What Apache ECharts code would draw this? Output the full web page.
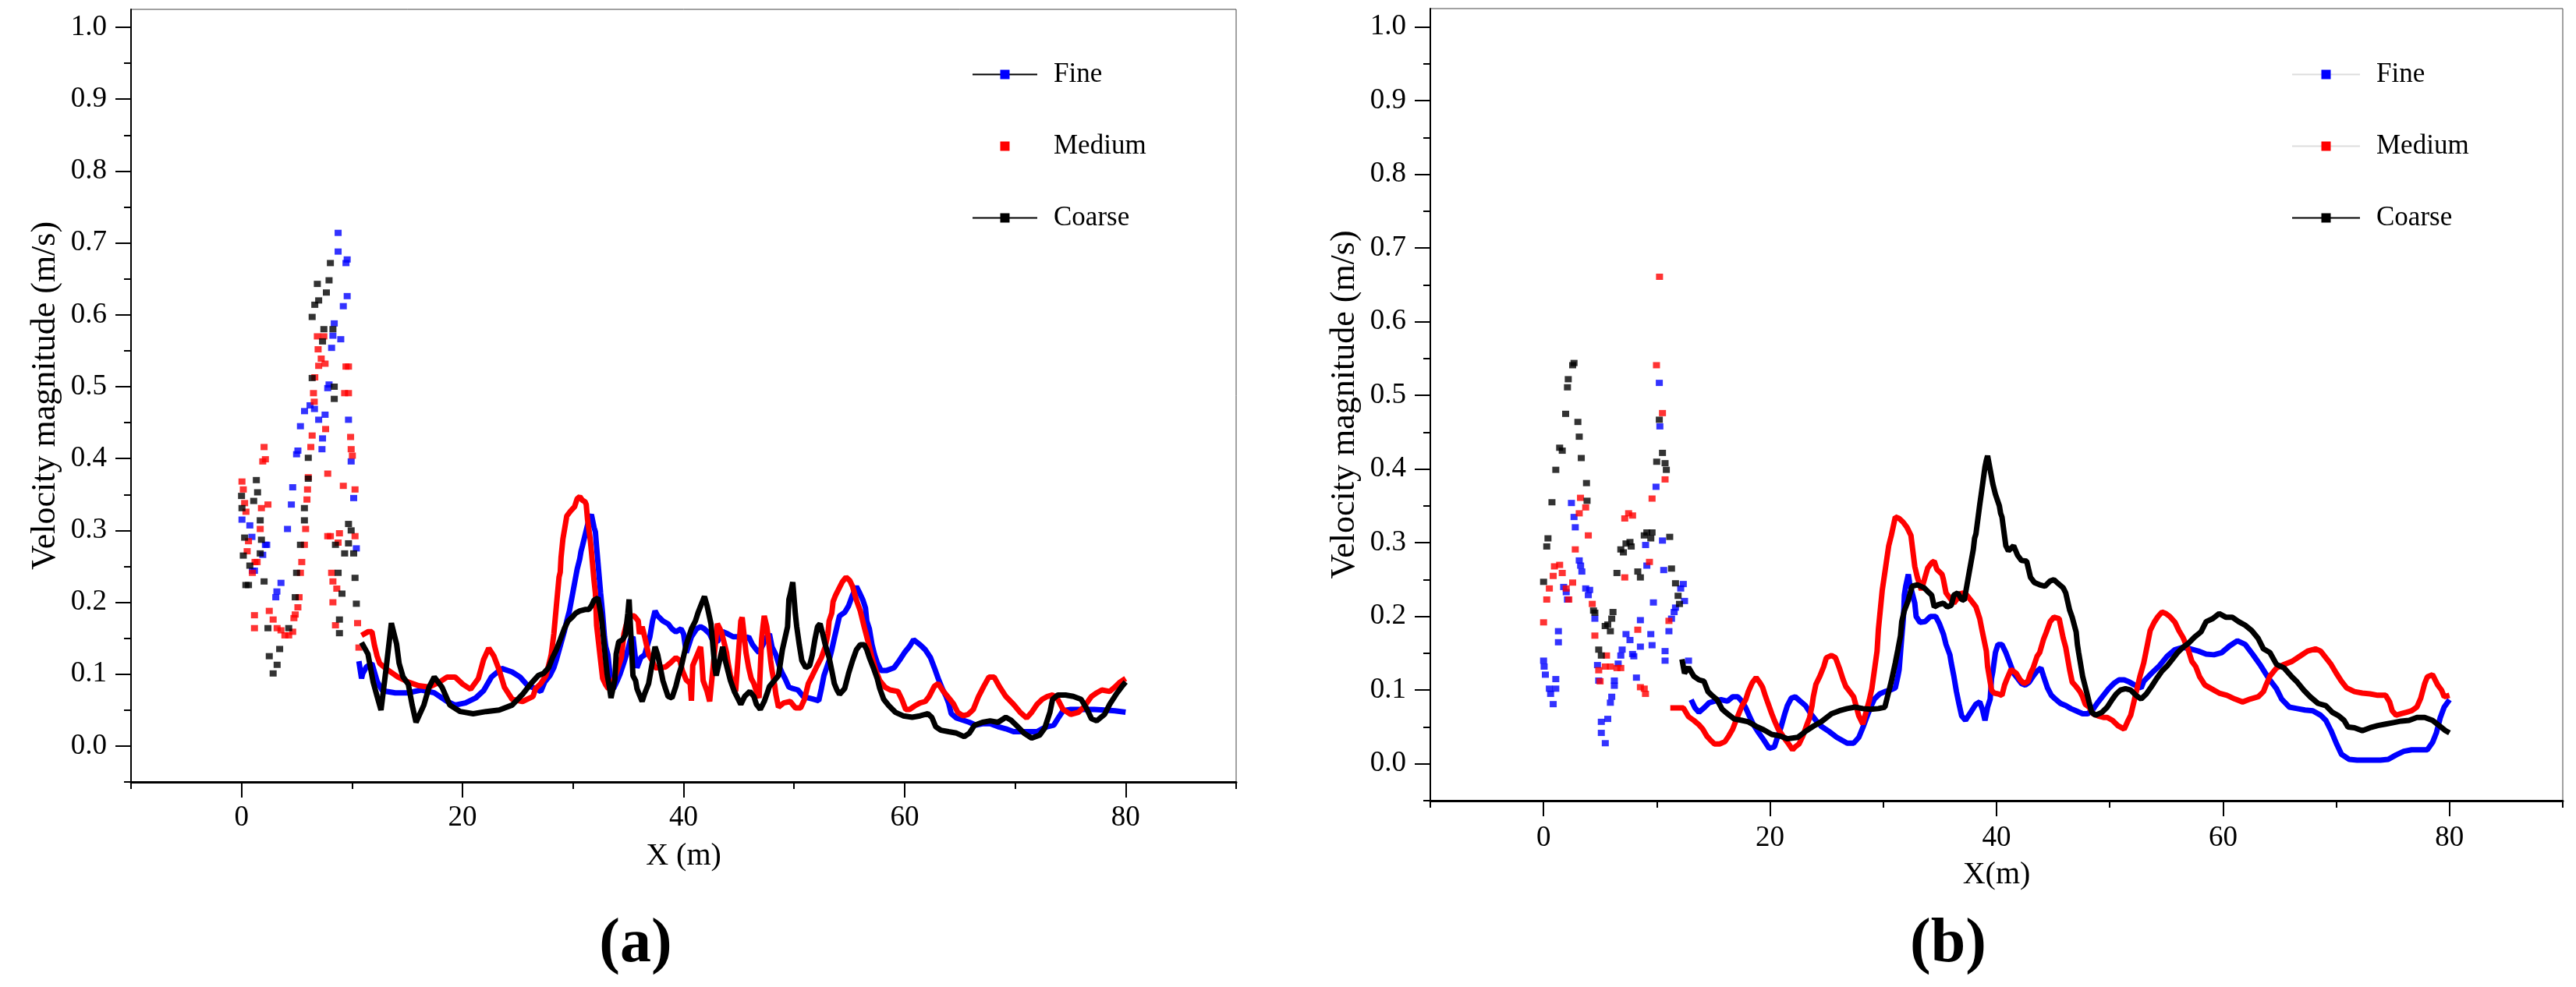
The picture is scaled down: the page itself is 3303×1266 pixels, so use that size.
<!DOCTYPE html>
<html>
<head>
<meta charset="utf-8">
<script src="https://cdn.jsdelivr.net/npm/echarts@6/dist/echarts.min.js"></script>
<style>
html, body { margin: 0; padding: 0; background: #fff; }
#chart { width: 3303px; height: 1266px; }
</style>
</head>
<body>
<div id="chart"></div>
<script>
// tick values
const xMajor = [0, 20, 40, 60, 80];
const xMinor = [-10, 10, 30, 50, 70, 90];
const yMajor = [0, 0.1, 0.2, 0.3, 0.4, 0.5, 0.6, 0.7, 0.8, 0.9, 1.0];
const yMinor = [-0.05, 0.05, 0.15, 0.25, 0.35, 0.45, 0.55, 0.65, 0.75, 0.85, 0.95];
const names = ['Fine', 'Medium', 'Coarse'];

// ---- panel (a) ----
// scattered points near the inlet, [x, velocity]
const fineA_pts = [[0.04,0.315],[0.75,0.307],[0.94,0.291],[0.98,0.244],[2.16,0.280],[2.28,0.280],[1.92,0.266],[1.17,0.244],[3.1,0.207],[3.2,0.215],[3.57,0.227],[4.16,0.302],[4.51,0.336],[4.63,0.360],[4.98,0.406],[5.1,0.411],[5.33,0.445],[5.7,0.466],[6.2,0.474],[6.6,0.469],[6.98,0.454],[7.56,0.461],[7.33,0.428],[7.28,0.413],[7.8,0.498],[7.92,0.503],[8.15,0.554],[8.27,0.571],[8.98,0.566],[8.39,0.588],[9.21,0.612],[9.56,0.626],[9.45,0.672],[9.56,0.677],[8.74,0.688],[8.74,0.714],[9.68,0.454],[9.92,0.396],[10.15,0.345],[10.39,0.275]];
const fineA_line = [[10.62,0.118],[10.86,0.094],[10.97,0.101],[11.3,0.110],[11.8,0.115],[12.27,0.090],[12.74,0.077],[13.91,0.074],[15.09,0.074],[16.26,0.078],[17.44,0.074],[18.61,0.062],[19.32,0.057],[20.26,0.060],[21.2,0.067],[21.9,0.077],[22.61,0.096],[23.55,0.108],[24.49,0.103],[25.2,0.096],[25.9,0.084],[26.61,0.080],[27.08,0.076],[27.43,0.089],[27.9,0.098],[28.26,0.109],[28.49,0.120],[29.2,0.159],[29.43,0.174],[29.67,0.188],[30.37,0.246],[30.6,0.260],[30.72,0.271],[30.84,0.278],[31.43,0.315],[31.66,0.322],[31.9,0.304],[32.02,0.298],[32.13,0.277],[32.49,0.213],[32.68,0.183],[32.84,0.152],[32.96,0.138],[33.15,0.127],[33.43,0.087],[33.66,0.080],[34.0,0.091],[34.25,0.100],[34.6,0.116],[34.96,0.134],[35.19,0.148],[35.42,0.152],[35.66,0.119],[35.78,0.109],[36.13,0.123],[36.48,0.127],[36.95,0.152],[37.19,0.174],[37.42,0.188],[37.66,0.181],[38.13,0.174],[38.6,0.170],[38.95,0.163],[39.3,0.159],[39.77,0.163],[40.0,0.156],[40.24,0.130],[40.48,0.141],[40.71,0.152],[41.18,0.163],[41.54,0.166],[41.89,0.163],[42.36,0.156],[42.6,0.148],[43.06,0.145],[43.54,0.159],[44.0,0.156],[44.48,0.152],[44.95,0.152],[45.42,0.148],[45.89,0.152],[46.24,0.141],[46.59,0.134],[46.83,0.130],[47.18,0.141],[47.53,0.152],[47.77,0.156],[48.0,0.138],[48.35,0.127],[48.71,0.109],[48.94,0.101],[49.18,0.094],[49.53,0.082],[49.88,0.080],[50.35,0.078],[50.82,0.069],[51.29,0.067],[51.76,0.065],[52.23,0.063],[52.47,0.080],[52.7,0.098],[53.17,0.119],[53.41,0.134],[53.64,0.150],[54.11,0.181],[54.58,0.186],[54.93,0.195],[55.29,0.210],[55.64,0.222],[55.87,0.215],[56.23,0.203],[56.46,0.192],[56.58,0.174],[56.81,0.163],[57.05,0.141],[57.28,0.127],[57.52,0.116],[57.87,0.105],[58.34,0.105],[59.05,0.109],[59.52,0.119],[59.99,0.130],[60.46,0.139],[60.81,0.148],[61.4,0.141],[61.87,0.134],[62.34,0.123],[62.69,0.109],[63.04,0.094],[63.4,0.080],[63.75,0.069],[63.98,0.060],[64.22,0.045],[64.69,0.039],[65.28,0.036],[65.86,0.033],[66.45,0.029],[67.04,0.031],[67.74,0.031],[68.45,0.027],[69.16,0.024],[69.86,0.020],[70.57,0.020],[71.27,0.020],[71.98,0.020],[72.45,0.024],[72.92,0.027],[73.5,0.029],[73.86,0.038],[74.33,0.049],[75.03,0.051],[75.74,0.051],[76.44,0.051],[77.15,0.051],[78.09,0.050],[79.03,0.049],[80.0,0.047]];

const mediumA_pts = [[0.04,0.368],[0.16,0.357],[0.28,0.338],[0.4,0.326],[0.63,0.285],[0.51,0.271],[0.98,0.241],[1.22,0.256],[1.17,0.182],[1.17,0.164],[1.69,0.302],[1.8,0.331],[2.39,0.336],[2.04,0.416],[2.16,0.399],[1.92,0.396],[1.41,0.256],[2.51,0.188],[2.86,0.176],[3.22,0.164],[3.57,0.161],[3.92,0.154],[4.27,0.154],[4.63,0.159],[4.74,0.178],[4.86,0.183],[5.21,0.207],[5.1,0.193],[5.33,0.241],[5.45,0.256],[5.69,0.280],[5.8,0.302],[5.92,0.343],[5.97,0.357],[6.04,0.374],[6.27,0.416],[6.39,0.432],[6.58,0.479],[6.51,0.491],[6.63,0.513],[6.98,0.529],[7.21,0.539],[7.56,0.532],[6.93,0.552],[6.86,0.570],[7.45,0.570],[7.61,0.441],[7.8,0.379],[7.8,0.292],[8.04,0.292],[8.86,0.296],[8.74,0.283],[8.15,0.241],[8.27,0.229],[8.62,0.219],[8.27,0.200],[8.5,0.168],[9.21,0.362],[9.45,0.528],[9.68,0.528],[9.33,0.491],[9.68,0.491],[9.87,0.430],[9.92,0.413],[10.03,0.404],[10.27,0.357],[10.27,0.292],[10.5,0.171],[10.62,0.137]];
const mediumA_line = [[10.86,0.154],[11.44,0.159],[11.8,0.159],[12.03,0.140],[12.27,0.125],[12.5,0.115],[13.21,0.106],[14.15,0.096],[15.09,0.089],[16.03,0.084],[16.97,0.082],[17.91,0.089],[18.61,0.096],[19.32,0.096],[20.02,0.086],[20.73,0.079],[21.43,0.094],[21.9,0.120],[22.37,0.136],[22.84,0.125],[23.31,0.106],[23.78,0.082],[24.49,0.065],[25.43,0.062],[26.37,0.069],[26.61,0.080],[27.08,0.087],[27.55,0.098],[27.9,0.119],[28.02,0.127],[28.26,0.156],[28.49,0.195],[28.73,0.235],[28.84,0.242],[28.91,0.262],[29.08,0.288],[29.31,0.309],[29.43,0.320],[29.78,0.327],[30.14,0.333],[30.37,0.344],[30.61,0.347],[30.84,0.342],[31.08,0.340],[31.19,0.336],[31.31,0.315],[31.55,0.288],[31.66,0.271],[31.9,0.230],[32.02,0.213],[32.13,0.168],[32.3,0.145],[32.49,0.119],[32.68,0.094],[32.96,0.085],[33.19,0.080],[33.43,0.082],[33.9,0.101],[34.37,0.123],[34.6,0.156],[34.84,0.170],[35.19,0.181],[35.54,0.181],[35.9,0.174],[36.01,0.156],[36.25,0.166],[36.48,0.152],[36.84,0.127],[37.19,0.118],[37.42,0.109],[37.9,0.109],[38.36,0.110],[38.83,0.116],[39.3,0.123],[39.66,0.119],[39.89,0.105],[40.24,0.092],[40.6,0.087],[40.71,0.063],[40.83,0.112],[41.54,0.138],[41.65,0.118],[41.77,0.091],[42.13,0.076],[42.36,0.062],[43.06,0.170],[43.42,0.159],[43.65,0.145],[43.89,0.130],[44.0,0.118],[44.24,0.098],[44.48,0.087],[44.71,0.076],[44.83,0.101],[45.18,0.174],[45.3,0.179],[45.65,0.130],[45.89,0.109],[46.12,0.094],[46.36,0.087],[46.59,0.076],[46.83,0.067],[47.06,0.148],[47.18,0.166],[47.3,0.181],[47.53,0.166],[47.65,0.152],[47.88,0.119],[48.0,0.105],[48.24,0.085],[48.35,0.072],[48.59,0.054],[49.06,0.060],[49.65,0.062],[50.12,0.053],[50.59,0.053],[50.94,0.065],[51.29,0.087],[51.65,0.098],[52.0,0.109],[52.47,0.123],[52.82,0.138],[53.06,0.156],[53.17,0.174],[53.41,0.185],[53.53,0.201],[53.76,0.210],[53.99,0.217],[54.35,0.228],[54.7,0.235],[55.05,0.230],[55.29,0.222],[55.64,0.203],[55.99,0.188],[56.34,0.166],[56.7,0.145],[57.05,0.123],[57.4,0.105],[57.75,0.091],[58.22,0.082],[58.7,0.078],[59.4,0.076],[59.75,0.065],[60.1,0.051],[60.46,0.051],[60.93,0.056],[61.4,0.060],[61.87,0.062],[62.22,0.069],[62.69,0.083],[63.04,0.087],[63.51,0.076],[64.1,0.065],[64.45,0.058],[64.8,0.047],[65.28,0.042],[65.75,0.044],[66.22,0.051],[66.69,0.069],[67.16,0.083],[67.63,0.096],[68.1,0.096],[68.57,0.083],[69.16,0.069],[69.86,0.058],[70.45,0.047],[71.04,0.039],[71.5,0.047],[71.98,0.058],[72.45,0.065],[72.92,0.069],[73.39,0.071],[73.86,0.065],[74.33,0.051],[75.03,0.044],[75.74,0.047],[76.21,0.054],[76.91,0.069],[77.38,0.074],[77.85,0.078],[78.56,0.076],[79.03,0.082],[79.5,0.089],[80.0,0.094]];

const coarseA_pts = [[0.0,0.348],[0.04,0.331],[0.28,0.290],[0.16,0.265],[0.39,0.224],[1.34,0.370],[1.45,0.353],[1.1,0.341],[1.69,0.314],[1.8,0.287],[1.69,0.268],[0.75,0.251],[0.63,0.224],[2.04,0.229],[2.39,0.164],[2.51,0.125],[2.86,0.101],[3.22,0.113],[3.45,0.135],[4.27,0.164],[4.86,0.207],[4.98,0.241],[5.33,0.280],[5.69,0.314],[5.69,0.331],[6.04,0.372],[6.04,0.401],[6.39,0.512],[6.39,0.597],[6.63,0.614],[6.86,0.643],[6.98,0.620],[7.68,0.631],[7.92,0.648],[8.04,0.672],[7.45,0.580],[7.33,0.563],[8.27,0.580],[8.39,0.500],[8.39,0.483],[8.5,0.280],[8.74,0.241],[9.09,0.212],[8.86,0.176],[8.86,0.157],[9.68,0.309],[9.92,0.300],[9.68,0.282],[9.33,0.268],[10.15,0.268],[10.27,0.234],[10.39,0.198]];
const coarseA_line = [[10.86,0.144],[11.44,0.128],[11.91,0.089],[12.27,0.069],[12.62,0.050],[13.1,0.110],[13.56,0.171],[14.03,0.142],[14.26,0.115],[14.62,0.096],[15.09,0.086],[15.44,0.057],[15.79,0.033],[16.5,0.057],[16.97,0.082],[17.44,0.096],[18.14,0.082],[18.85,0.057],[19.79,0.048],[20.96,0.045],[22.14,0.048],[23.31,0.050],[24.49,0.057],[25.43,0.072],[26.14,0.086],[26.84,0.098],[27.32,0.101],[27.79,0.109],[28.14,0.123],[28.49,0.134],[28.84,0.148],[29.2,0.163],[29.55,0.174],[29.9,0.179],[30.25,0.185],[30.61,0.188],[31.08,0.190],[31.43,0.190],[31.66,0.195],[31.9,0.203],[32.25,0.206],[32.49,0.186],[32.6,0.174],[33.08,0.100],[33.31,0.080],[33.43,0.067],[33.78,0.092],[33.9,0.128],[34.13,0.145],[34.48,0.148],[34.72,0.154],[34.96,0.185],[35.07,0.204],[35.42,0.098],[35.66,0.091],[35.78,0.080],[36.01,0.071],[36.25,0.062],[36.48,0.073],[36.84,0.087],[37.42,0.138],[37.66,0.127],[38.13,0.091],[38.36,0.080],[38.6,0.069],[38.95,0.067],[39.3,0.083],[39.54,0.098],[39.77,0.109],[40.24,0.141],[40.71,0.163],[41.07,0.174],[41.3,0.185],[41.65,0.199],[41.89,0.208],[42.13,0.195],[42.48,0.170],[42.83,0.109],[42.95,0.098],[43.54,0.138],[43.77,0.119],[44.24,0.091],[44.59,0.076],[44.95,0.065],[45.18,0.058],[45.53,0.069],[46.0,0.076],[46.36,0.069],[46.59,0.058],[46.94,0.051],[47.3,0.062],[47.53,0.072],[47.77,0.083],[48.59,0.098],[48.94,0.134],[49.41,0.166],[49.53,0.204],[49.65,0.211],[49.88,0.228],[50.12,0.183],[50.24,0.166],[50.47,0.141],[50.7,0.119],[51.06,0.109],[51.41,0.112],[51.65,0.127],[51.88,0.148],[52.12,0.166],[52.35,0.170],[52.59,0.156],[52.82,0.141],[53.17,0.123],[53.41,0.105],[53.64,0.087],[53.88,0.078],[54.11,0.072],[54.58,0.080],[54.93,0.101],[55.29,0.119],[55.64,0.134],[55.99,0.141],[56.34,0.141],[56.58,0.134],[56.81,0.123],[57.17,0.109],[57.52,0.094],[57.75,0.080],[58.11,0.065],[58.58,0.056],[59.16,0.047],[59.87,0.042],[60.69,0.040],[61.4,0.042],[62.1,0.045],[62.46,0.040],[62.81,0.027],[63.28,0.022],[63.98,0.020],[64.69,0.018],[65.39,0.013],[65.86,0.018],[66.33,0.029],[67.04,0.033],[67.74,0.035],[68.45,0.033],[69.16,0.040],[69.63,0.036],[70.1,0.029],[70.8,0.018],[71.5,0.011],[72.21,0.015],[72.68,0.025],[73.15,0.047],[73.39,0.065],[73.86,0.071],[74.56,0.071],[75.27,0.069],[75.97,0.065],[76.44,0.053],[76.91,0.038],[77.38,0.035],[78.09,0.044],[78.56,0.058],[79.14,0.072],[79.62,0.082],[80.0,0.089]];

// ---- panel (b) ----
const fineB_pts = [[0.0,0.140],[0.05,0.132],[0.16,0.121],[0.51,0.102],[0.62,0.095],[0.85,0.081],[1.08,0.115],[1.08,0.102],[1.31,0.180],[1.31,0.165],[1.77,0.240],[2.0,0.233],[2.11,0.223],[2.46,0.354],[2.69,0.335],[2.8,0.321],[3.15,0.276],[3.27,0.269],[3.38,0.261],[3.72,0.238],[4.07,0.236],[3.95,0.229],[4.53,0.197],[4.76,0.134],[4.87,0.113],[5.1,0.057],[5.1,0.042],[5.45,0.028],[5.67,0.061],[5.9,0.083],[6.02,0.091],[6.25,0.113],[6.25,0.106],[6.59,0.136],[6.94,0.155],[6.82,0.147],[7.28,0.176],[7.63,0.168],[7.86,0.149],[7.97,0.146],[8.2,0.117],[8.55,0.159],[8.55,0.195],[9.47,0.176],[9.58,0.161],[9.7,0.219],[9.01,0.297],[9.12,0.269],[9.93,0.376],[10.27,0.458],[10.22,0.517],[10.5,0.303],[10.61,0.263],[10.73,0.153],[10.73,0.140],[11.07,0.180],[11.3,0.197],[11.53,0.206],[11.65,0.212],[12.11,0.238],[12.34,0.244],[12.45,0.221],[12.8,0.140]];
const fineB_line = [[13.03,0.087],[13.37,0.076],[13.72,0.070],[14.17,0.076],[14.63,0.083],[15.09,0.085],[15.67,0.087],[16.24,0.085],[16.7,0.091],[17.16,0.091],[17.5,0.085],[17.85,0.076],[18.2,0.064],[18.54,0.053],[19.0,0.042],[19.46,0.032],[19.92,0.021],[20.38,0.023],[20.61,0.034],[20.95,0.049],[21.3,0.068],[21.53,0.079],[21.87,0.089],[22.22,0.091],[22.67,0.085],[23.13,0.079],[23.59,0.068],[24.05,0.059],[24.51,0.051],[25.2,0.044],[25.89,0.036],[26.81,0.028],[27.38,0.028],[27.84,0.036],[28.19,0.049],[28.53,0.063],[28.88,0.077],[29.22,0.088],[29.68,0.095],[30.14,0.098],[30.6,0.100],[31.06,0.103],[31.29,0.119],[31.4,0.128],[31.52,0.151],[31.63,0.172],[31.75,0.193],[31.82,0.211],[31.86,0.229],[31.98,0.241],[32.21,0.257],[32.32,0.246],[32.78,0.218],[32.9,0.200],[33.24,0.192],[33.7,0.193],[34.16,0.200],[34.62,0.200],[34.96,0.190],[35.31,0.176],[35.54,0.162],[35.88,0.148],[36.0,0.137],[36.23,0.119],[36.46,0.098],[36.69,0.081],[36.92,0.065],[37.26,0.059],[37.72,0.070],[38.18,0.081],[38.52,0.084],[38.75,0.074],[38.98,0.059],[39.21,0.077],[39.44,0.088],[39.56,0.116],[39.67,0.125],[39.9,0.151],[40.13,0.162],[40.48,0.162],[40.82,0.151],[41.17,0.137],[41.51,0.123],[41.86,0.116],[42.2,0.109],[42.54,0.107],[42.89,0.111],[43.23,0.119],[43.58,0.126],[43.92,0.130],[44.15,0.119],[44.5,0.103],[44.84,0.093],[45.19,0.088],[45.65,0.082],[46.11,0.079],[46.56,0.075],[47.02,0.072],[47.6,0.068],[48.06,0.068],[48.52,0.074],[48.98,0.084],[49.44,0.093],[49.9,0.102],[50.35,0.109],[50.81,0.114],[51.27,0.114],[51.73,0.111],[52.19,0.107],[52.77,0.103],[53.0,0.112],[53.69,0.123],[54.38,0.133],[55.07,0.146],[55.76,0.155],[56.45,0.158],[57.13,0.156],[57.82,0.153],[58.51,0.149],[59.2,0.148],[59.89,0.151],[60.58,0.160],[61.27,0.167],[61.96,0.162],[62.65,0.148],[63.34,0.133],[64.03,0.116],[64.72,0.102],[65.17,0.088],[65.86,0.077],[66.55,0.075],[67.24,0.073],[67.93,0.072],[68.62,0.066],[69.08,0.059],[69.54,0.045],[70.0,0.028],[70.46,0.013],[71.15,0.006],[71.84,0.005],[72.53,0.005],[73.22,0.005],[73.9,0.005],[74.59,0.006],[75.28,0.012],[75.97,0.017],[76.66,0.019],[77.35,0.019],[78.04,0.019],[78.5,0.029],[78.84,0.042],[79.19,0.063],[79.53,0.077],[80.0,0.087]];

const mediumB_pts = [[0.0,0.192],[0.28,0.223],[0.51,0.238],[0.85,0.255],[0.96,0.268],[1.42,0.270],[1.65,0.259],[2.0,0.238],[2.23,0.223],[2.57,0.246],[2.8,0.291],[3.26,0.361],[3.72,0.348],[3.15,0.340],[3.95,0.310],[4.3,0.217],[4.53,0.174],[4.87,0.127],[4.99,0.112],[5.45,0.132],[5.9,0.132],[6.48,0.130],[6.82,0.130],[5.56,0.147],[7.17,0.333],[7.51,0.340],[7.86,0.337],[8.32,0.182],[7.17,0.253],[8.55,0.104],[8.89,0.102],[9.0,0.095],[9.35,0.274],[9.58,0.360],[10.73,0.386],[10.5,0.476],[9.97,0.541],[10.24,0.661],[11.07,0.194]];
const mediumB_line = [[11.19,0.076],[11.76,0.076],[12.34,0.076],[12.8,0.064],[13.26,0.059],[13.72,0.053],[14.06,0.047],[14.4,0.038],[14.75,0.032],[15.09,0.027],[15.55,0.027],[16.01,0.030],[16.36,0.038],[16.7,0.047],[17.05,0.061],[17.5,0.078],[17.85,0.087],[18.08,0.098],[18.42,0.110],[18.77,0.117],[19.11,0.110],[19.34,0.104],[19.57,0.093],[19.8,0.083],[20.15,0.068],[20.38,0.059],[20.72,0.047],[20.95,0.042],[21.3,0.034],[21.64,0.027],[21.99,0.019],[22.22,0.023],[22.56,0.027],[22.9,0.038],[23.25,0.053],[23.48,0.062],[23.71,0.079],[23.82,0.091],[24.05,0.108],[24.4,0.119],[24.74,0.132],[24.97,0.144],[25.43,0.147],[25.78,0.144],[26.12,0.130],[26.46,0.114],[26.69,0.105],[27.04,0.098],[27.38,0.091],[27.84,0.065],[28.19,0.054],[28.76,0.086],[28.99,0.102],[29.45,0.153],[29.57,0.183],[29.91,0.236],[30.14,0.260],[30.48,0.296],[30.71,0.310],[31.06,0.335],[31.4,0.333],[31.75,0.328],[32.09,0.321],[32.44,0.310],[32.78,0.268],[33.01,0.253],[33.36,0.236],[33.59,0.248],[33.93,0.266],[34.27,0.273],[34.5,0.275],[34.73,0.264],[35.19,0.257],[35.31,0.250],[35.54,0.232],[35.88,0.225],[36.23,0.218],[36.57,0.225],[36.92,0.232],[37.38,0.229],[37.84,0.220],[38.18,0.213],[38.52,0.197],[38.75,0.179],[39.1,0.153],[39.21,0.132],[39.56,0.100],[39.79,0.096],[40.13,0.095],[40.48,0.093],[40.71,0.107],[40.94,0.116],[41.28,0.128],[41.74,0.123],[42.09,0.114],[42.43,0.109],[42.77,0.112],[43.0,0.123],[43.23,0.130],[43.58,0.146],[43.81,0.151],[44.15,0.169],[44.38,0.178],[44.73,0.193],[45.07,0.199],[45.53,0.197],[45.88,0.171],[46.11,0.158],[46.45,0.128],[46.68,0.111],[47.02,0.105],[47.37,0.098],[47.6,0.091],[47.83,0.081],[48.17,0.077],[48.52,0.068],[48.98,0.065],[49.44,0.063],[49.78,0.063],[50.24,0.059],[50.7,0.052],[51.27,0.047],[51.62,0.059],[51.85,0.066],[52.19,0.088],[52.65,0.118],[53.0,0.137],[53.34,0.163],[53.57,0.181],[53.92,0.192],[54.26,0.200],[54.61,0.206],[54.95,0.204],[55.3,0.200],[55.76,0.192],[56.1,0.181],[56.45,0.172],[56.9,0.156],[57.25,0.139],[57.59,0.132],[57.94,0.118],[58.4,0.107],[58.97,0.102],[59.66,0.096],[60.35,0.093],[61.04,0.088],[61.73,0.084],[62.42,0.088],[63.11,0.091],[63.57,0.098],[63.8,0.107],[64.14,0.119],[64.72,0.130],[65.4,0.135],[66.09,0.139],[66.78,0.146],[67.47,0.153],[68.16,0.156],[68.62,0.153],[69.08,0.144],[69.54,0.135],[70.0,0.123],[70.46,0.112],[70.92,0.103],[71.61,0.098],[72.3,0.096],[72.98,0.095],[73.67,0.093],[74.36,0.093],[74.71,0.084],[74.94,0.072],[75.28,0.066],[75.74,0.068],[76.2,0.070],[76.66,0.072],[77.12,0.077],[77.46,0.089],[77.81,0.109],[78.04,0.118],[78.5,0.121],[78.96,0.107],[79.3,0.100],[79.53,0.091],[80.0,0.093]];

const coarseB_pts = [[2.57,0.541],[2.69,0.544],[2.18,0.522],[2.11,0.511],[1.95,0.475],[3.03,0.464],[3.15,0.444],[1.42,0.429],[1.65,0.425],[3.33,0.415],[1.08,0.399],[3.79,0.381],[3.84,0.357],[0.74,0.355],[0.39,0.306],[0.28,0.295],[0.0,0.247],[4.41,0.208],[4.53,0.205],[6.13,0.206],[6.02,0.197],[5.44,0.187],[5.67,0.189],[5.9,0.180],[4.87,0.155],[5.1,0.147],[6.82,0.291],[7.05,0.287],[7.28,0.299],[7.74,0.295],[7.63,0.301],[6.48,0.259],[8.32,0.261],[8.55,0.253],[8.89,0.310],[9.12,0.314],[9.58,0.314],[9.47,0.306],[9.99,0.410],[10.73,0.408],[10.84,0.399],[10.5,0.422],[10.22,0.467],[11.14,0.308],[11.3,0.265],[11.65,0.245],[11.88,0.228],[12.0,0.217]];
const coarseB_line = [[12.22,0.142],[12.45,0.123],[12.8,0.131],[13.26,0.119],[13.72,0.114],[14.17,0.112],[14.52,0.098],[14.86,0.093],[15.32,0.087],[15.78,0.074],[16.24,0.068],[16.82,0.061],[17.51,0.059],[18.08,0.057],[18.77,0.051],[19.46,0.046],[20.15,0.040],[20.84,0.038],[21.53,0.034],[22.45,0.036],[23.13,0.044],[23.82,0.051],[24.51,0.057],[25.43,0.068],[26.12,0.072],[26.81,0.075],[27.5,0.077],[28.19,0.075],[28.88,0.074],[29.57,0.075],[30.14,0.077],[30.71,0.112],[31.06,0.137],[31.29,0.155],[31.52,0.174],[31.63,0.193],[31.86,0.208],[32.21,0.222],[32.32,0.229],[32.55,0.241],[33.01,0.243],[33.59,0.239],[34.05,0.232],[34.27,0.229],[34.5,0.213],[34.85,0.216],[35.31,0.218],[35.65,0.213],[36.0,0.215],[36.23,0.229],[36.57,0.232],[36.92,0.223],[37.15,0.222],[37.61,0.262],[37.95,0.291],[38.06,0.306],[38.18,0.312],[38.52,0.352],[38.64,0.365],[38.98,0.403],[39.1,0.412],[39.21,0.418],[39.67,0.380],[39.9,0.366],[40.25,0.350],[40.36,0.340],[40.48,0.335],[40.82,0.296],[41.05,0.289],[41.51,0.296],[41.86,0.283],[42.2,0.276],[42.66,0.275],[43.0,0.253],[43.35,0.246],[43.81,0.243],[44.27,0.241],[44.73,0.248],[45.07,0.250],[45.42,0.245],[45.88,0.239],[46.11,0.232],[46.45,0.209],[46.68,0.199],[47.03,0.179],[47.14,0.162],[47.25,0.151],[47.6,0.119],[47.83,0.105],[48.17,0.084],[48.4,0.070],[48.75,0.066],[49.32,0.070],[49.78,0.077],[50.24,0.088],[50.58,0.095],[50.93,0.100],[51.39,0.102],[51.85,0.100],[52.31,0.093],[52.77,0.088],[53.23,0.095],[53.69,0.105],[54.15,0.116],[54.61,0.126],[55.07,0.133],[55.53,0.142],[55.99,0.151],[56.45,0.158],[56.9,0.163],[57.48,0.172],[58.05,0.179],[58.51,0.193],[59.09,0.197],[59.66,0.204],[60.24,0.199],[60.81,0.199],[61.38,0.193],[61.96,0.188],[62.53,0.181],[63.11,0.170],[63.57,0.156],[64.14,0.151],[64.72,0.135],[65.4,0.130],[66.09,0.118],[66.55,0.111],[67.13,0.100],[67.7,0.091],[68.39,0.082],[69.08,0.079],[69.65,0.070],[70.23,0.065],[70.69,0.059],[71.03,0.050],[71.61,0.049],[72.3,0.045],[72.98,0.049],[73.67,0.052],[74.36,0.054],[75.05,0.056],[75.74,0.058],[76.43,0.059],[77.12,0.063],[77.81,0.063],[78.5,0.059],[79.07,0.052],[79.65,0.045],[80.0,0.042]];

const colors = { Fine: '#0000ff', Medium: '#ff0000', Coarse: '#000000' };
const font = '"Liberation Serif", "Times New Roman", serif';

function xAxes(grid, name, nameGap, margin) {
    return [
        {
            gridIndex: grid, type: 'value', min: -10, max: 90, position: 'bottom',
            name: name, nameLocation: 'middle', nameGap: nameGap,
            nameTextStyle: { fontFamily: font, fontSize: 40, color: '#000' },
            axisLine: { onZero: false, lineStyle: { color: '#000', width: 3 } },
            axisTick: { customValues: xMajor, length: 20, lineStyle: { color: '#000', width: 2 } },
            axisLabel: { customValues: xMajor, margin: margin, fontFamily: font, fontSize: 37, color: '#000' },
            splitLine: { show: false }
        },
        {
            gridIndex: grid, type: 'value', min: -10, max: 90, position: 'bottom',
            axisLine: { show: false, onZero: false },
            axisTick: { customValues: xMinor, length: 9, lineStyle: { color: '#000', width: 2 } },
            axisLabel: { show: false },
            splitLine: { show: false }
        }
    ];
}

function yAxes(grid) {
    return [
        {
            gridIndex: grid, type: 'value', min: -0.05, max: 1.025, position: 'left',
            name: 'Velocity magnitude (m/s)', nameLocation: 'middle', nameGap: 88, nameRotate: 90,
            nameTextStyle: { fontFamily: font, fontSize: 44, color: '#000' },
            axisLine: { show: true, onZero: false, lineStyle: { color: '#000', width: 2 } },
            axisTick: { customValues: yMajor, length: 20, lineStyle: { color: '#000', width: 2 } },
            axisLabel: { customValues: yMajor, margin: 31, fontFamily: font, fontSize: 37, color: '#000',
                formatter: v => v.toFixed(1) },
            splitLine: { show: false }
        },
        {
            gridIndex: grid, type: 'value', min: -0.05, max: 1.025, position: 'left',
            axisLine: { show: false, onZero: false },
            axisTick: { customValues: yMinor, length: 9, lineStyle: { color: '#000', width: 2 } },
            axisLabel: { show: false },
            splitLine: { show: false }
        }
    ];
}

const panels = [
    { pts: [fineA_pts, mediumA_pts, coarseA_pts], line: [fineA_line, mediumA_line, coarseA_line] },
    { pts: [fineB_pts, mediumB_pts, coarseB_pts], line: [fineB_line, mediumB_line, coarseB_line] }
];

const lineSeries = [];
const dotSeries = [];
panels.forEach((p, i) => {
    names.forEach((n, k) => {
        lineSeries.push({
            type: 'line', name: n, xAxisIndex: i * 2, yAxisIndex: i * 2,
            data: p.line[k], symbol: 'rect', symbolSize: 9, showSymbol: false,
            lineStyle: { color: colors[n], width: 7 }, itemStyle: { color: colors[n] },
            z: 2 + k
        });
        dotSeries.push({
            type: 'scatter', name: n, xAxisIndex: i * 2, yAxisIndex: i * 2,
            data: p.pts[k], symbol: 'rect', symbolSize: [9, 8],
            itemStyle: { color: colors[n] }, z: 2 + k
        });
    });
});

function legend(left, top, itemWidth, lines) {
    return {
        orient: 'vertical', left: left, top: top, padding: 0,
        itemWidth: itemWidth, itemHeight: 15, itemGap: 57, selectedMode: false,
        textStyle: { fontFamily: font, fontSize: 35, color: '#000', padding: [0, 0, 0, 16] },
        data: names.map((n, k) => ({ name: n, lineStyle: lines[k] }))
    };
}

const chart = echarts.init(document.getElementById('chart'));
chart.setOption({
    animation: false,
    backgroundColor: '#fff',
    textStyle: { fontFamily: font },
    grid: [
        { left: 168, top: 12, width: 1417, height: 991, show: true, borderColor: '#444', borderWidth: 1 },
        { left: 1834, top: 11, width: 1452, height: 1016, show: true, borderColor: '#444', borderWidth: 1 }
    ],
    xAxis: xAxes(0, 'X (m)', 75, 28).concat(xAxes(1, 'X(m)', 75, 30)),
    yAxis: yAxes(0).concat(yAxes(1)),
    legend: [
        legend(1246, 78, 83, [
            { color: '#000', width: 2, opacity: 1 },
            { opacity: 0 },
            { color: '#000', width: 2, opacity: 1 }
        ]),
        legend(2938, 78, 87, [
            { color: '#dddddd', width: 2, opacity: 1 },
            { color: '#dddddd', width: 2, opacity: 1 },
            { color: '#000', width: 2, opacity: 1 }
        ])
    ],
    graphic: [
        { type: 'text', x: 815, y: 1212, style: { text: '(a)', fontFamily: font, fontWeight: 'bold', fontSize: 80, fill: '#000', align: 'center', verticalAlign: 'middle' } },
        { type: 'text', x: 2498, y: 1212, style: { text: '(b)', fontFamily: font, fontWeight: 'bold', fontSize: 80, fill: '#000', align: 'center', verticalAlign: 'middle' } }
    ],
    series: lineSeries.concat(dotSeries)
});
</script>
</body>
</html>
